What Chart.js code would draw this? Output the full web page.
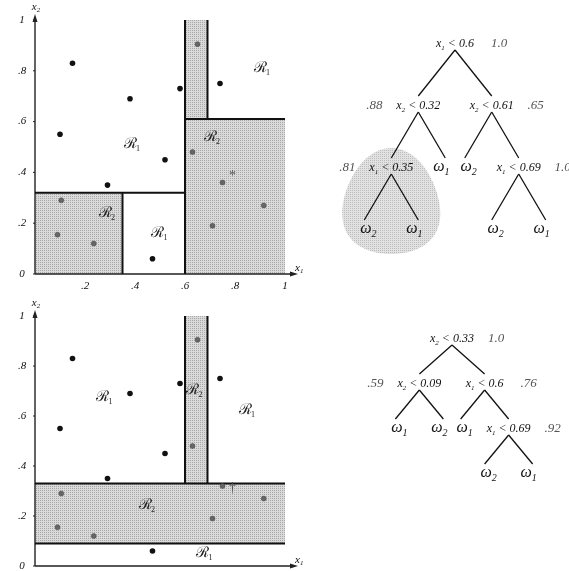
<!DOCTYPE html>
<html>
<head>
<meta charset="utf-8">
<script src="https://cdn.jsdelivr.net/npm/chart.js@4/dist/chart.umd.min.js"></script>
<style>
  body { margin: 0; background: #fff; width: 569px; height: 571px; overflow: hidden; position: relative; }
  canvas { position: absolute; }
</style>
</head>
<body>
<canvas id="plotTop" width="330" height="290" style="left:0;top:0"></canvas>
<canvas id="plotBottom" width="330" height="281" style="left:0;top:290px"></canvas>
<canvas id="treeTop" width="239" height="290" style="left:330px;top:0"></canvas>
<canvas id="treeBottom" width="239" height="281" style="left:330px;top:290px"></canvas>
<script>
const tickValues = [0, 0.2, 0.4, 0.6, 0.8, 1];
const tickLabels = ['0', '.2', '.4', '.6', '.8', '1'];

// omega_1 samples (black dots), same in both training sets
const class1X = [0.15, 0.38, 0.58, 0.74, 0.10, 0.52, 0.29, 0.47];
const class1Y = [0.83, 0.69, 0.73, 0.75, 0.55, 0.45, 0.35, 0.06];
// omega_2 samples (grey dots); the 3rd one is moved a little in the lower set
const class2X = [0.65, 0.63, 0.75, 0.915, 0.71, 0.105, 0.09, 0.235];
const class2YTop = [0.905, 0.48, 0.36, 0.27, 0.19, 0.29, 0.155, 0.12];
const class2YBottom = [0.905, 0.48, 0.32, 0.27, 0.19, 0.29, 0.155, 0.12];

// trees: split = [feature, threshold], kids = [yes, no], imp = impurity label
const treeTopNodes = [
  { split: [1, 0.6], imp: '1.0', kids: [1, 2] },
  { split: [2, 0.32], imp: '.88', kids: [3, 4] },
  { split: [2, 0.61], imp: '.65', kids: [5, 6] },
  { split: [1, 0.35], imp: '.81', kids: [7, 8] },
  { leaf: 1 },
  { leaf: 2 },
  { split: [1, 0.69], imp: '1.0', kids: [9, 10] },
  { leaf: 2 }, { leaf: 1 }, { leaf: 2 }, { leaf: 1 }
];
const treeBottomNodes = [
  { split: [2, 0.33], imp: '1.0', kids: [1, 2] },
  { split: [2, 0.09], imp: '.59', kids: [3, 4] },
  { split: [1, 0.6], imp: '.76', kids: [5, 6] },
  { leaf: 1 }, { leaf: 2 }, { leaf: 1 },
  { split: [1, 0.69], imp: '.92', kids: [7, 8] },
  { leaf: 2 }, { leaf: 1 }
];
const prunedNodeTop = 3;

// region names [class, x1, x2]
const regionLabelsTop = [[1, 0.9, 0.815], [1, 0.38, 0.515], [2, 0.28, 0.245], [1, 0.49, 0.165], [2, 0.70, 0.545]];
const regionLabelsBottom = [[1, 0.27, 0.68], [2, 0.63, 0.71], [1, 0.84, 0.63], [2, 0.44, 0.25], [1, 0.67, 0.055]];
const markTop = ['*', 0.79, 0.385];
const markBottom = ['\u2020', 0.79, 0.31];

const SERIF = '"Liberation Serif", "DejaVu Serif", serif';

function makeStipple(dark, light) {
  const c = document.createElement('canvas');
  c.width = 2; c.height = 2;
  const g = c.getContext('2d');
  g.fillStyle = light; g.fillRect(0, 0, 2, 2);
  g.fillStyle = dark; g.fillRect(0, 0, 1, 1);
  return g.createPattern(c, 'repeat');
}
const stipple = makeStipple('#a8a8a8', '#dadada');
const blobStipple = makeStipple('#bcbcbc', '#e2e2e2');

// text with "_x" subscripts
function drawSub(ctx, str, x, y, size, align) {
  const parts = [];
  for (let i = 0; i < str.length; i++) {
    if (str[i] === '_') { parts.push({ t: str[i + 1], sub: true }); i++; }
    else parts.push({ t: str[i], sub: false });
  }
  const big = 'italic ' + size + 'px ' + SERIF;
  const small = 'italic ' + Math.round(size * 0.62) + 'px ' + SERIF;
  let w = 0;
  parts.forEach(p => { ctx.font = p.sub ? small : big; p.w = ctx.measureText(p.t).width; w += p.w; });
  let cx = align === 'left' ? x : x - w / 2;
  ctx.textAlign = 'left';
  ctx.textBaseline = 'alphabetic';
  parts.forEach(p => {
    ctx.font = p.sub ? small : big;
    ctx.fillText(p.t, cx, p.sub ? y + size * 0.22 : y);
    cx += p.w;
  });
}

function cells(tree) {
  const leaves = [], cuts = [];
  (function walk(i, b) {
    const n = tree[i];
    if (n.leaf) { leaves.push({ b, cls: n.leaf }); return; }
    const [f, t] = n.split;
    if (f === 1) {
      cuts.push([t, t, b[2], b[3]]);
      walk(n.kids[0], [b[0], t, b[2], b[3]]);
      walk(n.kids[1], [t, b[1], b[2], b[3]]);
    } else {
      cuts.push([b[0], b[1], t, t]);
      walk(n.kids[0], [b[0], b[1], b[2], t]);
      walk(n.kids[1], [b[0], b[1], t, b[3]]);
    }
  })(0, [0, 1, 0, 1]);
  return { leaves, cuts };
}

function layout(tree) {
  const pos = [];
  (function place(i, x, depth, side) {
    pos[i] = { x, y: depth, side };
    const n = tree[i];
    if (n.kids) {
      const d = depth === 0 ? 1.36 : 1;
      place(n.kids[0], x - d, depth + 1, -1);
      place(n.kids[1], x + d, depth + 1, 1);
    }
  })(0, 0, 0, 1);
  return pos;
}

function regionPlugin(tree, labels, mark, xTicks) {
  const { leaves, cuts } = cells(tree);
  return {
    id: 'regions',
    beforeDatasetsDraw(chart) {
      const { ctx, scales: { x, y } } = chart;
      ctx.save();
      ctx.fillStyle = stipple;
      leaves.filter(l => l.cls === 2).forEach(l => {
        const x0 = x.getPixelForValue(l.b[0]), x1 = x.getPixelForValue(l.b[1]);
        const y0 = y.getPixelForValue(l.b[2]), y1 = y.getPixelForValue(l.b[3]);
        ctx.fillRect(x0, y1, x1 - x0, y0 - y1);
      });
      // axes with arrows
      const ox = x.getPixelForValue(0), oy = y.getPixelForValue(0);
      const top = y.getPixelForValue(1), right = x.getPixelForValue(1);
      ctx.strokeStyle = '#222'; ctx.fillStyle = '#222'; ctx.lineWidth = 1.4;
      ctx.beginPath();
      ctx.moveTo(ox, oy); ctx.lineTo(ox, top - 2);
      ctx.moveTo(ox, oy); ctx.lineTo(right + 8, oy);
      ctx.stroke();
      ctx.beginPath();
      ctx.moveTo(ox, top - 6); ctx.lineTo(ox - 2.5, top + 2); ctx.lineTo(ox + 2.5, top + 2); ctx.closePath();
      ctx.moveTo(right + 13, oy); ctx.lineTo(right + 5, oy - 2.5); ctx.lineTo(right + 5, oy + 2.5); ctx.closePath();
      ctx.fill();
      ctx.lineWidth = 1;
      ctx.fillStyle = '#111';
      tickValues.forEach((v, i) => {
        const py = y.getPixelForValue(v);
        ctx.beginPath(); ctx.moveTo(ox - 2, py); ctx.lineTo(ox, py); ctx.stroke();
        ctx.font = 'italic 11px ' + SERIF;
        ctx.textAlign = 'center'; ctx.textBaseline = 'middle';
        ctx.fillText(tickLabels[i], ox - 13, py);
        if (xTicks && v > 0) ctx.fillText(tickLabels[i], x.getPixelForValue(v), oy + 12);
      });
      drawSub(ctx, 'x_2', ox + 1, top - 10, 11, 'center');
      drawSub(ctx, 'x_1', right + 10, oy - 3, 11, 'left');
      // decision boundaries
      ctx.strokeStyle = '#111'; ctx.lineWidth = 2;
      cuts.forEach(c => {
        ctx.beginPath();
        ctx.moveTo(x.getPixelForValue(c[0]), y.getPixelForValue(c[2]));
        ctx.lineTo(x.getPixelForValue(c[1]), y.getPixelForValue(c[3]));
        ctx.stroke();
      });
      ctx.restore();
    },
    afterDatasetsDraw(chart) {
      const { ctx, scales: { x, y } } = chart;
      ctx.save();
      ctx.fillStyle = '#222';
      labels.forEach(([cls, vx, vy]) => {
        const px = x.getPixelForValue(vx), py = y.getPixelForValue(vy);
        ctx.font = '15px "DejaVu Serif", serif';
        ctx.textAlign = 'center'; ctx.textBaseline = 'alphabetic';
        ctx.fillText('\u211B', px, py + 5);
        ctx.font = '8px ' + SERIF;
        ctx.fillText(String(cls), px + 8, py + 8);
      });
      ctx.font = '14px ' + SERIF;
      ctx.fillStyle = '#555';
      ctx.textAlign = 'center'; ctx.textBaseline = 'middle';
      ctx.fillText(mark[0], x.getPixelForValue(mark[1]), y.getPixelForValue(mark[2]));
      ctx.restore();
    }
  };
}

function treePlugin(tree, highlight) {
  const pos = layout(tree);
  return {
    id: 'tree',
    afterDatasetsDraw(chart) {
      const { ctx, scales: { x, y } } = chart;
      const px = i => x.getPixelForValue(pos[i].x);
      const py = i => y.getPixelForValue(pos[i].y);
      ctx.save();
      if (highlight != null) {
        const cx = px(highlight), cy = py(highlight) + 34;
        ctx.fillStyle = blobStipple;
        ctx.beginPath();
        ctx.moveTo(cx, cy - 53);
        ctx.bezierCurveTo(cx + 30, cy - 53, cx + 50, cy - 12, cx + 49, cy + 14);
        ctx.bezierCurveTo(cx + 48, cy + 44, cx + 22, cy + 53, cx, cy + 53);
        ctx.bezierCurveTo(cx - 22, cy + 53, cx - 48, cy + 44, cx - 49, cy + 14);
        ctx.bezierCurveTo(cx - 50, cy - 12, cx - 30, cy - 53, cx, cy - 53);
        ctx.fill();
      }
      ctx.strokeStyle = '#111'; ctx.lineWidth = 1.3;
      tree.forEach((n, i) => {
        if (!n.kids) return;
        n.kids.forEach(k => {
          ctx.beginPath();
          ctx.moveTo(px(i), py(i) + 7);
          ctx.lineTo(px(k), py(k) - 9);
          ctx.stroke();
        });
      });
      tree.forEach((n, i) => {
        if (n.leaf) {
          ctx.fillStyle = '#111';
          // leaf symbols sit a little inward of their branch end
          drawSub(ctx, '\u03C9_' + n.leaf, px(i) - pos[i].side * 4, py(i) + 4, 16, 'center');
          return;
        }
        ctx.fillStyle = '#111';
        drawSub(ctx, 'x_' + n.split[0] + ' < ' + n.split[1], px(i), py(i) + 4, 12, 'center');
        ctx.fillStyle = '#555';
        ctx.font = 'italic 13px ' + SERIF;
        ctx.textAlign = 'center'; ctx.textBaseline = 'alphabetic';
        ctx.fillText(n.imp, px(i) + pos[i].side * 44, py(i) + 4);
      });
      ctx.restore();
    }
  };
}

function scatterChart(id, yTop, padBottom, tree, labels, mark, xTicks, class2Y) {
  new Chart(document.getElementById(id), {
    type: 'scatter',
    data: {
      datasets: [
        { data: class1X.map((v, i) => ({ x: v, y: class1Y[i] })), pointRadius: 2.8, backgroundColor: '#111', borderWidth: 0 },
        { data: class2X.map((v, i) => ({ x: v, y: class2Y[i] })), pointRadius: 2.5, backgroundColor: '#666', borderColor: '#444', borderWidth: 0.5 }
      ]
    },
    options: {
      responsive: false, animation: false, events: [],
      layout: { padding: { left: 35, right: 45, top: yTop, bottom: padBottom } },
      scales: {
        x: { type: 'linear', min: 0, max: 1, display: false },
        y: { type: 'linear', min: 0, max: 1, display: false }
      },
      plugins: { legend: { display: false }, tooltip: { enabled: false } }
    },
    plugins: [regionPlugin(tree, labels, mark, xTicks)]
  });
}

function treeChart(id, tree, highlight, xr, yr) {
  const pos = layout(tree);
  new Chart(document.getElementById(id), {
    type: 'scatter',
    data: { datasets: [{ data: pos.map(p => ({ x: p.x, y: p.y })), pointRadius: 0 }] },
    options: {
      responsive: false, animation: false, events: [],
      layout: { padding: 0 },
      scales: {
        x: { type: 'linear', min: xr[0], max: xr[1], display: false },
        y: { type: 'linear', min: yr[0], max: yr[1], reverse: true, display: false }
      },
      plugins: { legend: { display: false }, tooltip: { enabled: false } }
    },
    plugins: [treePlugin(tree, highlight)]
  });
}

scatterChart('plotTop', 20, 16, treeTopNodes, regionLabelsTop, markTop, true, class2YTop);
scatterChart('plotBottom', 26, 5, treeBottomNodes, regionLabelsBottom, markBottom, false, class2YBottom);
treeChart('treeTop', treeTopNodes, prunedNodeTop, [-125 / 27, 114 / 27], [-43 / 62, 247 / 62]);
treeChart('treeBottom', treeBottomNodes, null, [-122 / 24, 117 / 24], [-48 / 45, 233 / 45]);
</script>
</body>
</html>
